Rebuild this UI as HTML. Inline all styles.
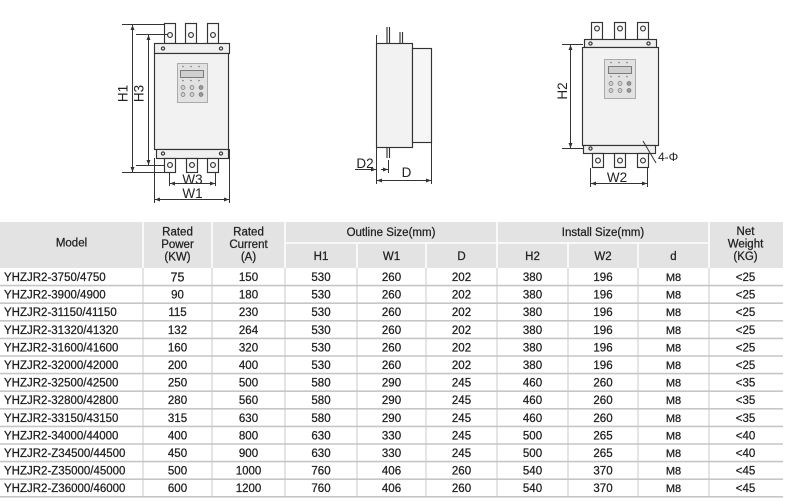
<!DOCTYPE html>
<html>
<head>
<meta charset="utf-8">
<style>
html,body{margin:0;padding:0;background:#fff;}
svg{display:block;}
text{font-family:"Liberation Sans",Arial,sans-serif;}
</style>
</head>
<body>
<svg width="785" height="501" viewBox="0 0 785 501" xmlns="http://www.w3.org/2000/svg">
<defs>
<marker id="ar" viewBox="0 0 10 10" refX="10" refY="5" markerWidth="6" markerHeight="5" orient="auto-start-reverse" markerUnits="userSpaceOnUse">
<path d="M0,1 L10,5 L0,9 z" fill="#333"/>
</marker>
</defs>

<!-- ============ LEFT DRAWING ============ -->
<g stroke="#333" stroke-width="1.15" fill="none">
  <rect x="164.5" y="23.5" width="11" height="20" fill="#fafafa"/>
  <rect x="185.5" y="23.5" width="11" height="20" fill="#fafafa"/>
  <rect x="207.5" y="23.5" width="11" height="20" fill="#fafafa"/>
  <circle cx="170" cy="35" r="2.4"/><circle cx="191" cy="35" r="2.4"/><circle cx="213" cy="35" r="2.4"/>
  <rect x="154.5" y="43.5" width="75" height="10" fill="#f0f0f0"/>
  <circle cx="163" cy="48.5" r="1.6"/><circle cx="221" cy="48.5" r="1.6"/>
  <rect x="154.5" y="53.5" width="74" height="96" fill="#f2f2f2"/>
  <rect x="156.5" y="149.5" width="72" height="9" fill="#f0f0f0"/>
  <circle cx="163" cy="153.5" r="1.6"/><circle cx="221" cy="153.5" r="1.6"/>
  <rect x="164.5" y="158.5" width="11" height="14" fill="#fafafa"/>
  <rect x="186.5" y="158.5" width="11" height="14" fill="#fafafa"/>
  <rect x="207.5" y="158.5" width="11" height="14" fill="#fafafa"/>
  <circle cx="170" cy="165" r="2.4"/><circle cx="192" cy="165" r="2.4"/><circle cx="213" cy="165" r="2.4"/>
</g>
<rect x="177.5" y="63.5" width="30" height="39" fill="#e2e2e2" stroke="#9a9a9a" stroke-width="0.8"/>
<rect x="180.5" y="70.5" width="23" height="7" fill="#cfcfcf" stroke="#666" stroke-width="0.8"/>
<g fill="#777">
<circle cx="183" cy="66.5" r="0.8"/><circle cx="191" cy="66.5" r="0.8"/><circle cx="199" cy="66.5" r="0.8"/>
<circle cx="183" cy="80.5" r="0.8"/><circle cx="191" cy="80.5" r="0.8"/><circle cx="199" cy="80.5" r="0.8"/>
</g>
<g fill="#d0d0d0" stroke="#777" stroke-width="0.7">
<circle cx="183" cy="87.5" r="2"/><circle cx="192" cy="87.5" r="2"/><circle cx="201" cy="87.5" r="2" fill="#999"/>
<circle cx="183" cy="94.5" r="2"/><circle cx="192" cy="94.5" r="2"/><circle cx="201" cy="94.5" r="2" fill="#999"/>
</g>
<g stroke="#333" stroke-width="1" fill="none">
  <line x1="122" y1="24.5" x2="164" y2="24.5"/>
  <line x1="122" y1="172.5" x2="164" y2="172.5"/>
  <line x1="132.5" y1="25" x2="132.5" y2="172" marker-start="url(#ar)" marker-end="url(#ar)"/>
  <line x1="136" y1="34.5" x2="168" y2="34.5"/>
  <line x1="136" y1="165.5" x2="164" y2="165.5"/>
  <line x1="148.5" y1="35" x2="148.5" y2="165" marker-start="url(#ar)" marker-end="url(#ar)"/>
  <line x1="169.5" y1="172" x2="169.5" y2="186"/>
  <line x1="215.5" y1="172" x2="215.5" y2="186"/>
  <line x1="170" y1="183.5" x2="215" y2="183.5" marker-start="url(#ar)" marker-end="url(#ar)"/>
  <line x1="154.5" y1="158" x2="154.5" y2="203"/>
  <line x1="229.5" y1="149" x2="229.5" y2="203"/>
  <line x1="155" y1="199.5" x2="229" y2="199.5" marker-start="url(#ar)" marker-end="url(#ar)"/>
</g>
<g fill="#222" font-size="13.5">
  <text transform="translate(127.5,93.5) rotate(-90)" text-anchor="middle">H1</text>
  <text transform="translate(143.5,93.5) rotate(-90)" text-anchor="middle">H3</text>
  <text x="192.5" y="184" text-anchor="middle">W3</text>
  <text x="192.5" y="198" text-anchor="middle">W1</text>
</g>

<!-- ============ MIDDLE DRAWING ============ -->
<g stroke="#333" stroke-width="1.15" fill="none">
  <rect x="376.5" y="43.5" width="36" height="104" fill="#f2f2f2"/>
  <rect x="412.5" y="48.5" width="19" height="94" fill="#f6f6f6"/>
  <line x1="387" y1="27" x2="387" y2="43"/><line x1="389.5" y1="27" x2="389.5" y2="43"/>
  <line x1="400" y1="32" x2="400" y2="43"/><line x1="402.5" y1="32" x2="402.5" y2="43"/>
  <line x1="387" y1="148" x2="387" y2="158"/><line x1="389.5" y1="148" x2="389.5" y2="158"/>
</g>
<g stroke="#333" stroke-width="1" fill="none">
  <line x1="376.5" y1="35" x2="376.5" y2="184"/>
  <line x1="431.5" y1="142" x2="431.5" y2="184"/>
  <line x1="388.5" y1="160" x2="388.5" y2="173"/>
  <line x1="355" y1="169.5" x2="376" y2="169.5" marker-end="url(#ar)"/>
  <line x1="388" y1="169.5" x2="381" y2="169.5" marker-start="url(#ar)"/>
  <line x1="377" y1="180.5" x2="431" y2="180.5" marker-start="url(#ar)" marker-end="url(#ar)"/>
</g>
<g fill="#222" font-size="13.5">
  <text x="365" y="168" text-anchor="middle">D2</text>
  <text x="406.5" y="177" text-anchor="middle">D</text>
</g>

<!-- ============ RIGHT DRAWING ============ -->
<g stroke="#333" stroke-width="1.15" fill="none">
  <rect x="591.5" y="22.5" width="11" height="17" fill="#fafafa"/>
  <rect x="614.5" y="22.5" width="11" height="17" fill="#fafafa"/>
  <rect x="637.5" y="22.5" width="11" height="17" fill="#fafafa"/>
  <circle cx="597" cy="28.5" r="2.4"/><circle cx="620" cy="28.5" r="2.4"/><circle cx="643" cy="28.5" r="2.4"/>
  <rect x="584.5" y="39.5" width="72" height="8" fill="#f0f0f0"/>
  <circle cx="590.5" cy="43.5" r="1.6"/><circle cx="648.5" cy="43.5" r="1.6"/>
  <rect x="582.5" y="47.5" width="76" height="98" fill="#f2f2f2"/>
  <rect x="583.5" y="145.5" width="72" height="8" fill="#f0f0f0"/>
  <circle cx="590.5" cy="148.5" r="1.6"/>
  <rect x="592.5" y="153.5" width="11" height="14" fill="#fafafa"/>
  <rect x="614.5" y="153.5" width="11" height="14" fill="#fafafa"/>
  <rect x="637.5" y="153.5" width="11" height="14" fill="#fafafa"/>
  <circle cx="598" cy="160.5" r="2.4"/><circle cx="620" cy="160.5" r="2.4"/><circle cx="643" cy="160.5" r="2.4"/>
</g>
<rect x="604.5" y="59.5" width="31" height="39" fill="#e2e2e2" stroke="#9a9a9a" stroke-width="0.8"/>
<rect x="608.5" y="66.5" width="23" height="7" fill="#cfcfcf" stroke="#666" stroke-width="0.8"/>
<g fill="#777">
<circle cx="611" cy="62.5" r="0.8"/><circle cx="619" cy="62.5" r="0.8"/><circle cx="627" cy="62.5" r="0.8"/>
<circle cx="611" cy="76.5" r="0.8"/><circle cx="619" cy="76.5" r="0.8"/><circle cx="627" cy="76.5" r="0.8"/>
</g>
<g fill="#d0d0d0" stroke="#777" stroke-width="0.7">
<circle cx="611" cy="83.5" r="2"/><circle cx="620" cy="83.5" r="2"/><circle cx="629" cy="83.5" r="2" fill="#999"/>
<circle cx="611" cy="90.5" r="2"/><circle cx="620" cy="90.5" r="2"/><circle cx="629" cy="90.5" r="2" fill="#999"/>
</g>
<g stroke="#333" stroke-width="1" fill="none">
  <line x1="562" y1="44.5" x2="583" y2="44.5"/>
  <line x1="562" y1="148.5" x2="583" y2="148.5"/>
  <line x1="570.5" y1="45" x2="570.5" y2="148" marker-start="url(#ar)" marker-end="url(#ar)"/>
  <line x1="590.5" y1="168" x2="590.5" y2="187"/>
  <line x1="647.5" y1="168" x2="647.5" y2="187"/>
  <line x1="591" y1="183.5" x2="647" y2="183.5" marker-start="url(#ar)" marker-end="url(#ar)"/>
  <line x1="643" y1="141" x2="656" y2="163"/>
</g>
<g fill="#222" font-size="13.5">
  <text transform="translate(567,91) rotate(-90)" text-anchor="middle">H2</text>
  <text x="617" y="182" text-anchor="middle">W2</text>
  <text x="658" y="161" font-size="12">4-Φ</text>
</g>

<!-- ============ TABLE ============ -->
<rect x="0" y="222" width="783" height="46" fill="#e3e3e3"/>
<g stroke="#ffffff" stroke-width="1.5">
  <line x1="143" y1="222" x2="143" y2="268"/>
  <line x1="212" y1="222" x2="212" y2="268"/>
  <line x1="285" y1="222" x2="285" y2="268"/>
  <line x1="497" y1="222" x2="497" y2="268"/>
  <line x1="709" y1="222" x2="709" y2="268"/>
  <line x1="285" y1="243" x2="709" y2="243"/>
  <line x1="357" y1="243" x2="357" y2="268"/>
  <line x1="426" y1="243" x2="426" y2="268"/>
  <line x1="568" y1="243" x2="568" y2="268"/>
  <line x1="638" y1="243" x2="638" y2="268"/>
</g>
<g fill="#222" stroke="#222" stroke-width="0.25" font-size="11.5" text-anchor="middle">
  <text x="71.5" y="246.5">Model</text>
  <text x="177.5" y="235.5">Rated</text>
  <text x="177.5" y="248">Power</text>
  <text x="177.5" y="260.5">(KW)</text>
  <text x="248.5" y="235.5">Rated</text>
  <text x="248.5" y="248">Current</text>
  <text x="248.5" y="260.5">(A)</text>
  <text x="391" y="236">Outline Size(mm)</text>
  <text x="603" y="236">Install Size(mm)</text>
  <text x="745.5" y="235">Net</text>
  <text x="745.5" y="247.5">Weight</text>
  <text x="745.5" y="260">(KG)</text>
  <text x="321" y="260">H1</text>
  <text x="391.5" y="260">W1</text>
  <text x="461.5" y="260">D</text>
  <text x="532.5" y="260">H2</text>
  <text x="603" y="260">W2</text>
  <text x="673.5" y="260">d</text>
</g>
<g stroke="#c9c9c9" stroke-width="1">
  <line x1="143" y1="268" x2="143" y2="497"/>
  <line x1="212" y1="268" x2="212" y2="497"/>
  <line x1="285" y1="268" x2="285" y2="497"/>
  <line x1="357" y1="268" x2="357" y2="497"/>
  <line x1="426" y1="268" x2="426" y2="497"/>
  <line x1="497" y1="268" x2="497" y2="497"/>
  <line x1="568" y1="268" x2="568" y2="497"/>
  <line x1="638" y1="268" x2="638" y2="497"/>
  <line x1="709" y1="268" x2="709" y2="497"/>
</g>
<g stroke="#c6c6c6" stroke-width="1.6">
  <line x1="0" y1="285.6" x2="783" y2="285.6"/>
  <line x1="0" y1="303.2" x2="783" y2="303.2"/>
  <line x1="0" y1="320.8" x2="783" y2="320.8"/>
  <line x1="0" y1="338.4" x2="783" y2="338.4"/>
  <line x1="0" y1="356" x2="783" y2="356"/>
  <line x1="0" y1="373.6" x2="783" y2="373.6"/>
  <line x1="0" y1="391.2" x2="783" y2="391.2"/>
  <line x1="0" y1="408.8" x2="783" y2="408.8"/>
  <line x1="0" y1="426.4" x2="783" y2="426.4"/>
  <line x1="0" y1="444" x2="783" y2="444"/>
  <line x1="0" y1="461.6" x2="783" y2="461.6"/>
  <line x1="0" y1="479.2" x2="783" y2="479.2"/>
  <line x1="0" y1="496.8" x2="783" y2="496.8"/>
</g>

<g fill="#1e1e1e" stroke="#1e1e1e" stroke-width="0.25" font-size="11.5">
  <g>
    <text x="4" y="281">YHZJR2-3750/4750</text>
    <text x="4" y="298.6">YHZJR2-3900/4900</text>
    <text x="4" y="316.2">YHZJR2-31150/41150</text>
    <text x="4" y="333.8">YHZJR2-31320/41320</text>
    <text x="4" y="351.4">YHZJR2-31600/41600</text>
    <text x="4" y="369">YHZJR2-32000/42000</text>
    <text x="4" y="386.6">YHZJR2-32500/42500</text>
    <text x="4" y="404.2">YHZJR2-32800/42800</text>
    <text x="4" y="421.8">YHZJR2-33150/43150</text>
    <text x="4" y="439.4">YHZJR2-34000/44000</text>
    <text x="4" y="457">YHZJR2-Z34500/44500</text>
    <text x="4" y="474.6">YHZJR2-Z35000/45000</text>
    <text x="4" y="492.2">YHZJR2-Z36000/46000</text>
  </g>
  <g text-anchor="middle">
    <text x="177.5" y="281.5" font-size="12.5">75</text>
    <text x="177.5" y="298.6">90</text>
    <text x="177.5" y="316.2">115</text>
    <text x="177.5" y="333.8">132</text>
    <text x="177.5" y="351.4">160</text>
    <text x="177.5" y="369">200</text>
    <text x="177.5" y="386.6">250</text>
    <text x="177.5" y="404.2">280</text>
    <text x="177.5" y="421.8">315</text>
    <text x="177.5" y="439.4">400</text>
    <text x="177.5" y="457">450</text>
    <text x="177.5" y="474.6">500</text>
    <text x="177.5" y="492.2">600</text>
    <text x="248.5" y="281">150</text>
    <text x="248.5" y="298.6">180</text>
    <text x="248.5" y="316.2">230</text>
    <text x="248.5" y="333.8">264</text>
    <text x="248.5" y="351.4">320</text>
    <text x="248.5" y="369">400</text>
    <text x="248.5" y="386.6">500</text>
    <text x="248.5" y="404.2">560</text>
    <text x="248.5" y="421.8">630</text>
    <text x="248.5" y="439.4">800</text>
    <text x="248.5" y="457">900</text>
    <text x="248.5" y="474.6">1000</text>
    <text x="248.5" y="492.2">1200</text>
    <text x="321" y="281">530</text>
    <text x="321" y="298.6">530</text>
    <text x="321" y="316.2">530</text>
    <text x="321" y="333.8">530</text>
    <text x="321" y="351.4">530</text>
    <text x="321" y="369">530</text>
    <text x="321" y="386.6">580</text>
    <text x="321" y="404.2">580</text>
    <text x="321" y="421.8">580</text>
    <text x="321" y="439.4">630</text>
    <text x="321" y="457">630</text>
    <text x="321" y="474.6">760</text>
    <text x="321" y="492.2">760</text>
    <text x="391.5" y="281">260</text>
    <text x="391.5" y="298.6">260</text>
    <text x="391.5" y="316.2">260</text>
    <text x="391.5" y="333.8">260</text>
    <text x="391.5" y="351.4">260</text>
    <text x="391.5" y="369">260</text>
    <text x="391.5" y="386.6">290</text>
    <text x="391.5" y="404.2">290</text>
    <text x="391.5" y="421.8">290</text>
    <text x="391.5" y="439.4">330</text>
    <text x="391.5" y="457">330</text>
    <text x="391.5" y="474.6">406</text>
    <text x="391.5" y="492.2">406</text>
    <text x="461.5" y="281">202</text>
    <text x="461.5" y="298.6">202</text>
    <text x="461.5" y="316.2">202</text>
    <text x="461.5" y="333.8">202</text>
    <text x="461.5" y="351.4">202</text>
    <text x="461.5" y="369">202</text>
    <text x="461.5" y="386.6">245</text>
    <text x="461.5" y="404.2">245</text>
    <text x="461.5" y="421.8">245</text>
    <text x="461.5" y="439.4">245</text>
    <text x="461.5" y="457">245</text>
    <text x="461.5" y="474.6">260</text>
    <text x="461.5" y="492.2">260</text>
    <text x="532.5" y="281">380</text>
    <text x="532.5" y="298.6">380</text>
    <text x="532.5" y="316.2">380</text>
    <text x="532.5" y="333.8">380</text>
    <text x="532.5" y="351.4">380</text>
    <text x="532.5" y="369">380</text>
    <text x="532.5" y="386.6">460</text>
    <text x="532.5" y="404.2">460</text>
    <text x="532.5" y="421.8">460</text>
    <text x="532.5" y="439.4">500</text>
    <text x="532.5" y="457">500</text>
    <text x="532.5" y="474.6">540</text>
    <text x="532.5" y="492.2">540</text>
    <text x="603" y="281">196</text>
    <text x="603" y="298.6">196</text>
    <text x="603" y="316.2">196</text>
    <text x="603" y="333.8">196</text>
    <text x="603" y="351.4">196</text>
    <text x="603" y="369">196</text>
    <text x="603" y="386.6">260</text>
    <text x="603" y="404.2">260</text>
    <text x="603" y="421.8">260</text>
    <text x="603" y="439.4">265</text>
    <text x="603" y="457">265</text>
    <text x="603" y="474.6">370</text>
    <text x="603" y="492.2">370</text>
    <g font-size="11">
    <text x="673.5" y="281">M8</text>
    <text x="673.5" y="298.6">M8</text>
    <text x="673.5" y="316.2">M8</text>
    <text x="673.5" y="333.8">M8</text>
    <text x="673.5" y="351.4">M8</text>
    <text x="673.5" y="369">M8</text>
    <text x="673.5" y="386.6">M8</text>
    <text x="673.5" y="404.2">M8</text>
    <text x="673.5" y="421.8">M8</text>
    <text x="673.5" y="439.4">M8</text>
    <text x="673.5" y="457">M8</text>
    <text x="673.5" y="474.6">M8</text>
    <text x="673.5" y="492.2">M8</text>
    </g>
    <text x="745.5" y="281">&lt;25</text>
    <text x="745.5" y="298.6">&lt;25</text>
    <text x="745.5" y="316.2">&lt;25</text>
    <text x="745.5" y="333.8">&lt;25</text>
    <text x="745.5" y="351.4">&lt;25</text>
    <text x="745.5" y="369">&lt;25</text>
    <text x="745.5" y="386.6">&lt;35</text>
    <text x="745.5" y="404.2">&lt;35</text>
    <text x="745.5" y="421.8">&lt;35</text>
    <text x="745.5" y="439.4">&lt;40</text>
    <text x="745.5" y="457">&lt;40</text>
    <text x="745.5" y="474.6">&lt;45</text>
    <text x="745.5" y="492.2">&lt;45</text>
  </g>
</g>
</svg>
</body>
</html>
